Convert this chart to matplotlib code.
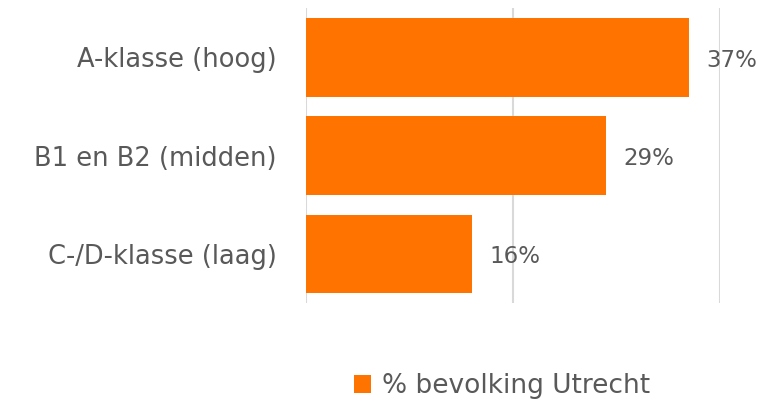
import matplotlib.pyplot as plt

categories = ["A-klasse (hoog)", "B1 en B2 (midden)", "C-/D-klasse (laag)"]
values = [37, 29, 16]
value_labels = ["37%", "29%", "16%"]
series_name = "% bevolking Utrecht"

orange = "#FF7300"
text_grey = "#595959"
grid_grey = "#D9D9D9"

plt.rcParams["font.family"] = ["DejaVu Sans"]

fig = plt.figure(figsize=(7.58, 4.04), dpi=100)
ax = fig.add_axes([306 / 758, 1 - 303 / 404, 414 / 758, 295 / 404])

y = list(range(len(categories)))
bars = ax.barh(y, values, height=0.8, color=orange, label=series_name, zorder=3)

ax.set_xlim(0, 40)
ax.set_ylim(len(categories) - 0.5, -0.5)
ax.set_xticks([0, 20, 40])
ax.xaxis.grid(True, color=grid_grey, linewidth=1.5, zorder=0)
ax.tick_params(axis="x", length=0, labelbottom=False)
ax.tick_params(axis="y", length=0, pad=21, labelsize=18.5, labelcolor=text_grey)
ax.set_yticks(y)
ax.set_yticklabels(categories)
for s in ax.spines.values():
    s.set_visible(False)

for b, lab in zip(bars, value_labels):
    ax.text(b.get_width() + 1.7, b.get_y() + b.get_height() / 2 + 0.03, lab,
            va="center", ha="left", fontsize=16.5, color=text_grey)

fig.legend(handles=[bars], labels=[series_name], loc="center",
           bbox_to_anchor=(502 / 758, 1 - 386 / 404), frameon=False,
           fontsize=19, labelcolor=text_grey, handlelength=0.65, handleheight=0.65,
           handletextpad=0.4)

fig.savefig("out.png", dpi=100)
